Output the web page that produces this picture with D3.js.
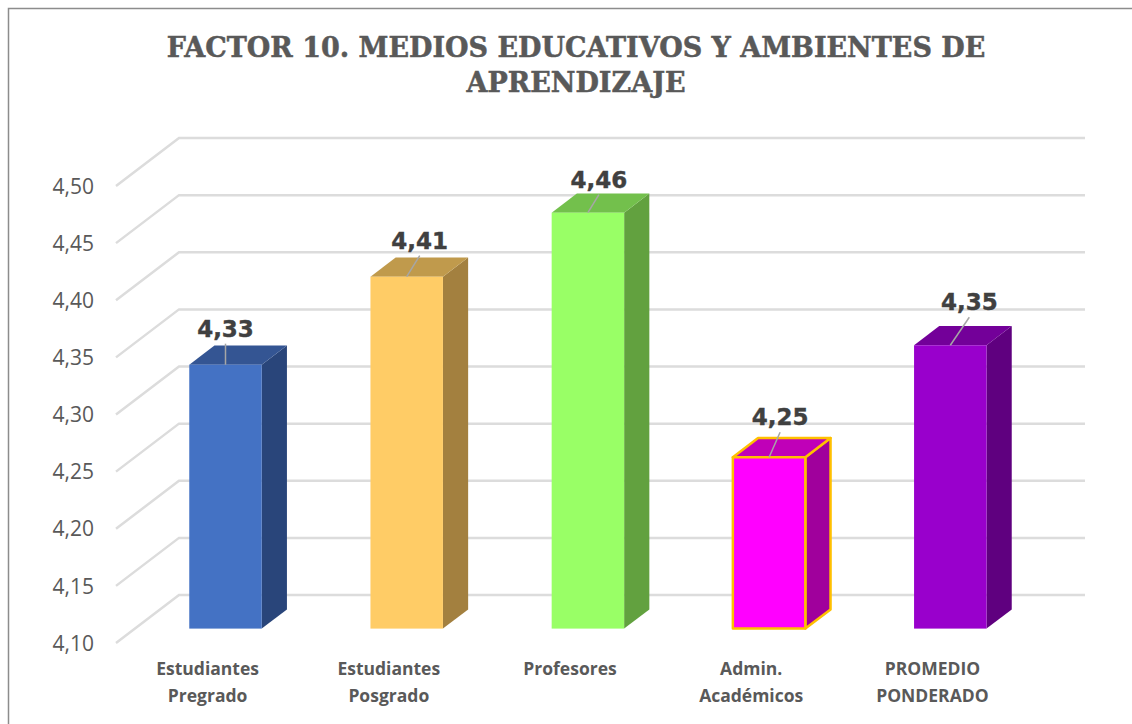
<!DOCTYPE html>
<html>
<head>
<meta charset="utf-8">
<script src="https://cdn.jsdelivr.net/npm/d3@7"></script>
<style>
    html, body { margin: 0; padding: 0; background: #fff; }
    svg { display: block; }
</style>
</head>
<body>
<div id="chart"></div>
<script>

// data
const categories = ["Estudiantes|Pregrado", "Estudiantes|Posgrado", "Profesores", "Admin.|Académicos", "PROMEDIO|PONDERADO"];
const values = [4.331, 4.408, 4.464, 4.25, 4.348];
const yTicks = [4.10, 4.15, 4.20, 4.25, 4.30, 4.35, 4.40, 4.45, 4.50];
const titleLines = ["FACTOR 10. MEDIOS EDUCATIVOS Y AMBIENTES DE", "APRENDIZAJE"];
const frontColors = ["#4472c4", "#ffcc66", "#99ff66", "#ff00ff", "#9900cc"];
const topColors = ["#345593", "#c09a4c", "#73c04c", "#c000b8", "#730099"];
const sideColors = ["#29457a", "#a3803f", "#62a13f", "#a0009c", "#5f007f"];
const strokeColors = ["none", "none", "none", "#ffc000", "none"];

const width = 1132, height = 724;

// oblique depth of the 3d box
const depth = {x: 63, y: -48};
const barNear = 0.3, barFar = 0.7;

// value labels were dragged by hand in the original, offset from the bar top
const labelShift = [[0, -28], [13, -28], [11, -25], [11, -32], [19, -35]];

const svg = d3.select("#chart").append("svg")
    .attr("width", width)
    .attr("height", height);

// chart frame
svg.append("path")
    .attr("d", "M1132,8.5H8.5V724")
    .attr("fill", "none")
    .attr("stroke", "#8c8c8c")
    .attr("stroke-width", 1.5);

svg.selectAll(".title").data(titleLines).enter().append("text")
    .attr("class", "title")
    .attr("x", 576)
    .attr("y", (d, i) => 57 + i * 35)
    .attr("text-anchor", "middle")
    .attr("font-family", "'DejaVu Serif'")
    .attr("font-weight", "bold")
    .attr("font-size", 27)
    .attr("fill", "#595959")
    .attr("stroke", "#595959")
    .attr("stroke-width", 0.5)
    .text(d => d);

let y = d3.scaleLinear().domain([4.10, 4.50]).range([643, 186]);
let x = d3.scaleBand().domain(categories).range([116, 1022]);

// walls of the 3d plot, one line per tick
let grid = svg.append("g");
yTicks.forEach(t => {
    grid.append("polyline")
        .attr("points", [
            [x.range()[0], y(t)],
            [x.range()[0] + depth.x, y(t) + depth.y],
            [x.range()[1] + depth.x, y(t) + depth.y]
        ].join(" "))
        .attr("fill", "none")
        .attr("stroke", "#dcdcdc")
        .attr("stroke-width", 2.5);
});

let yAxis = d3.axisLeft(y)
    .tickValues(yTicks)
    .tickSize(0)
    .tickPadding(22)
    .tickFormat(d => d3.format(".2f")(d).replace(".", ","));

let axisG = svg.append("g")
    .attr("transform", "translate(" + x.range()[0] + ",0.5)")
    .call(yAxis);
axisG.select(".domain").remove();
axisG.selectAll("text")
    .attr("font-family", "'Open Sans'")
    .attr("font-size", 21)
    .attr("fill", "#595959");

// bars
let barWidth = x.bandwidth() * 0.4;

categories.forEach((c, i) => {
    let x0 = x(c) + (x.bandwidth() - barWidth) / 2 + depth.x * barNear;
    let x1 = x0 + barWidth;
    let dx = depth.x * (barFar - barNear);
    let dy = depth.y * (barFar - barNear);
    let base = y(y.domain()[0]) + depth.y * barNear;
    let top = base - (y(y.domain()[0]) - y(values[i]));

    let g = svg.append("g")
        .attr("stroke", strokeColors[i])
        .attr("stroke-width", 2.5)
        .attr("stroke-linejoin", "round");

    g.append("polygon")
        .attr("points", [[x1, base], [x1 + dx, base + dy], [x1 + dx, top + dy], [x1, top]].join(" "))
        .attr("fill", sideColors[i]);
    g.append("polygon")
        .attr("points", [[x0, top], [x1, top], [x1 + dx, top + dy], [x0 + dx, top + dy]].join(" "))
        .attr("fill", topColors[i]);
    g.append("rect")
        .attr("x", x0)
        .attr("y", top)
        .attr("width", barWidth)
        .attr("height", base - top)
        .attr("fill", frontColors[i]);

    // leader line up to the value label
    let cx = (x0 + x1) / 2;
    let lx = cx + labelShift[i][0];
    let ly = top + labelShift[i][1];
    svg.append("line")
        .attr("x1", cx)
        .attr("y1", top)
        .attr("x2", lx)
        .attr("y2", ly + 7)
        .attr("stroke", "#a6a6a6")
        .attr("stroke-width", 1.5);

    svg.append("text")
        .attr("x", lx)
        .attr("y", ly)
        .attr("text-anchor", "middle")
        .attr("font-family", "'DejaVu Sans'")
        .attr("font-weight", "bold")
        .attr("font-size", 23)
        .attr("fill", "#404040")
        .attr("stroke", "#404040")
        .attr("stroke-width", 0.4)
        .text(d3.format(".2f")(values[i]).replace(".", ","));

    // category label
    let lines = c.split("|");
    svg.selectAll(null).data(lines).enter().append("text")
        .attr("x", x(c) + x.bandwidth() / 2 + 1)
        .attr("y", (d, j) => 675 + j * 27)
        .attr("text-anchor", "middle")
        .attr("font-family", "'Open Sans'")
        .attr("font-weight", "bold")
        .attr("font-size", 17.5)
        .attr("fill", "#595959")
        .text(d => d);
});

</script>
</body>
</html>
